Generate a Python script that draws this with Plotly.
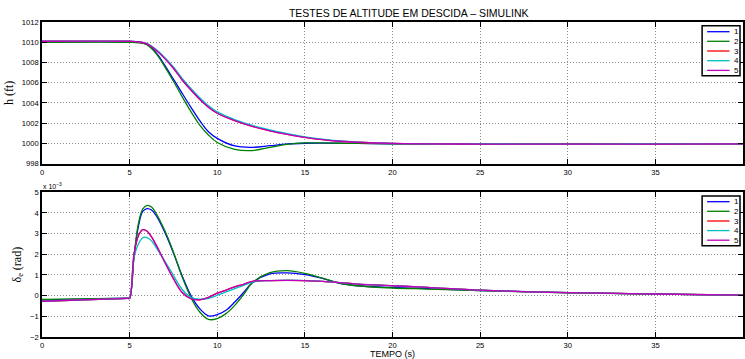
import plotly.graph_objects as go

# ---------------- data ----------------
names = ["1", "2", "3", "4", "5"]
colors = ["#0000ff", "#008000", "#ff0000", "#00bfbf", "#bf00bf"]

# altitude h (ft)
t_h = [0, 5, 5.5, 6, 6.5, 7, 7.5, 8, 8.5, 9, 9.5, 10, 11, 12, 13, 14, 15, 16, 17, 18, 20, 25, 30, 35, 40]
h1 = [1010.05, 1010.05, 1010.0, 1009.78, 1009.0, 1007.75, 1006.35, 1004.95, 1003.57, 1002.25, 1001.16, 1000.5,
      999.75, 999.62, 999.78, 999.95, 1000.02, 1000.03, 1000.02, 1000.0, 999.97, 999.95, 999.95, 999.95, 999.95]
h2 = [1010.0, 1010.0, 1009.95, 1009.73, 1008.9, 1007.6, 1006.15, 1004.6, 1003.14, 1001.82, 1000.84, 1000.1,
      999.42, 999.3, 999.62, 999.91, 1000.05, 1000.05, 1000.02, 1000.0, 999.97, 999.95, 999.95, 999.95, 999.95]
h3 = [1010.1, 1010.1, 1010.05, 1009.83, 1009.24, 1008.41, 1007.43, 1006.27, 1005.28, 1004.36, 1003.57, 1002.98,
      1002.25, 1001.68, 1001.25, 1000.9, 1000.6, 1000.38, 1000.22, 1000.12, 1000.0, 999.94, 999.93, 999.94, 999.95]
h4 = [1010.1, 1010.1, 1010.06, 1009.86, 1009.3, 1008.5, 1007.55, 1006.42, 1005.43, 1004.52, 1003.72, 1003.12,
      1002.36, 1001.78, 1001.33, 1000.97, 1000.66, 1000.42, 1000.25, 1000.14, 1000.01, 999.95, 999.94, 999.95, 999.95]
h5 = [1010.1, 1010.1, 1010.05, 1009.83, 1009.24, 1008.41, 1007.43, 1006.27, 1005.28, 1004.36, 1003.57, 1002.98,
      1002.25, 1001.68, 1001.25, 1000.9, 1000.6, 1000.38, 1000.22, 1000.12, 1000.0, 999.94, 999.93, 999.94, 999.95]

# elevator deflection delta_e (rad, in units of 1e-3)
t_d = [0, 4.9, 5, 5.25, 5.5, 5.75, 6, 6.25, 6.5, 7, 7.5, 8, 8.5, 9, 9.5, 10, 10.5, 11, 11.5, 12,
       13, 14, 15, 16, 17, 18, 20, 22, 25, 30, 35, 40]
d1 = [-0.22, -0.125, -0.12, 1.88, 3.35, 4.08, 4.21, 4.14, 3.89, 3.08, 2.06, 0.95, 0.0, -0.63, -0.98, -0.92,
      -0.71, -0.31, 0.15, 0.62, 1.05, 1.1, 1.02, 0.84, 0.6, 0.48, 0.4, 0.34, 0.25, 0.15, 0.07, 0.03]
d2 = [-0.18, -0.125, -0.12, 1.9, 3.48, 4.2, 4.37, 4.29, 4.0, 3.16, 2.11, 0.9, -0.1, -0.79, -1.15, -1.11,
      -0.87, -0.47, 0.05, 0.62, 1.11, 1.21, 1.08, 0.85, 0.6, 0.48, 0.37, 0.32, 0.24, 0.14, 0.07, 0.03]
d3 = [-0.27, -0.135, -0.13, 2.0, 2.9, 3.19, 3.12, 2.84, 2.47, 1.63, 0.82, 0.15, -0.15, -0.2, -0.08, 0.12,
      0.27, 0.42, 0.55, 0.69, 0.73, 0.74, 0.73, 0.69, 0.63, 0.56, 0.48, 0.4, 0.27, 0.15, 0.08, 0.03]
d4 = [-0.27, -0.135, -0.13, 1.85, 2.5, 2.8, 2.81, 2.65, 2.35, 1.68, 0.98, 0.3, -0.08, -0.17, -0.13, 0.02,
      0.18, 0.34, 0.5, 0.65, 0.73, 0.75, 0.73, 0.69, 0.63, 0.56, 0.48, 0.4, 0.27, 0.15, 0.08, 0.03]
d5 = [-0.27, -0.135, -0.13, 2.0, 2.9, 3.19, 3.12, 2.84, 2.47, 1.63, 0.82, 0.15, -0.15, -0.2, -0.08, 0.12,
      0.27, 0.42, 0.55, 0.69, 0.73, 0.74, 0.73, 0.69, 0.63, 0.56, 0.48, 0.4, 0.27, 0.15, 0.08, 0.03]

h_series = [h1, h2, h3, h4, h5]
d_series = [d1, d2, d3, d4, d5]

# ---------------- figure ----------------
W_FIG, H_FIG = 745, 359
L, R, T, B = 42, 0, 22, 22
PW, PH = W_FIG - L - R, H_FIG - T - B


def pxx(x):
    return (x - L) / PW


def pxy(y):
    return (H_FIG - B - y) / PH


fig = go.Figure()
for name, color, y in zip(names, colors, h_series):
    fig.add_trace(go.Scatter(x=t_h, y=y, name=name, mode="lines", xaxis="x", yaxis="y",
                             line=dict(color=color, width=1.3, shape="spline", smoothing=1),
                             showlegend=False, legendgroup=name))
for name, color, y in zip(names, colors, d_series):
    fig.add_trace(go.Scatter(x=t_d, y=y, name=name, mode="lines", xaxis="x2", yaxis="y2",
                             line=dict(color=color, width=1.3, shape="spline", smoothing=1),
                             showlegend=False, legendgroup=name))

tickfont = dict(family="Liberation Sans, Arial, sans-serif", size=7.6, color="black")
axis_common = dict(showline=True, linecolor="black", linewidth=1.5, mirror="ticks",
                   ticks="inside", ticklen=5, tickwidth=1.3, tickcolor="black",
                   showgrid=True, gridcolor="#8c8c8c", griddash="1px,2px", gridwidth=1,
                   zeroline=False, tickfont=tickfont)

top_lo = pxy(163.7)
bot_hi = pxy(192.3)

fig.update_layout(
    width=W_FIG, height=H_FIG,
    margin=dict(l=L, r=R, t=T, b=B),
    paper_bgcolor="white", plot_bgcolor="white",
    title=dict(text="TESTES DE ALTITUDE EM DESCIDA – SIMULINK", xref="container", x=408.7 / W_FIG,
               xanchor="center", yref="container", y=1 - 13 / H_FIG, yanchor="middle",
               font=dict(family="Liberation Sans, Arial, sans-serif", size=10.5, color="black")),
    xaxis=dict(axis_common, domain=[0, 1], anchor="y", range=[0, 40], dtick=5, tick0=0),
    yaxis=dict(axis_common, domain=[top_lo, 1], anchor="x", range=[998, 1012], dtick=2, tick0=998,
               title=dict(text="h (ft)", standoff=6,
                          font=dict(family="Liberation Serif, Times New Roman, serif", size=12, color="black"))),
    xaxis2=dict(axis_common, domain=[0, 1], anchor="y2", range=[0, 40], dtick=5, tick0=0,
                title=dict(text="TEMPO (s)", standoff=3,
                           font=dict(family="Liberation Sans, Arial, sans-serif", size=9, color="black"))),
    yaxis2=dict(axis_common, domain=[0, bot_hi], anchor="x2", range=[-2, 5], dtick=1, tick0=-2,
                title=dict(text="δ<sub>e</sub> (rad)", standoff=6,
                           font=dict(family="Liberation Serif, Times New Roman, serif", size=12, color="black"))),
    showlegend=False,
)

# exponent label of lower axis
fig.add_annotation(text="x 10<sup>−3</sup>", xref="paper", yref="paper", x=pxx(40.5), y=pxy(186.5),
                   xanchor="left", yanchor="middle", showarrow=False,
                   font=dict(family="Liberation Sans, Arial, sans-serif", size=7, color="black"))

# compact MATLAB-style legends (one per subplot)
legend_boxes = [
    dict(x0=704, x1=742, y0=25.7, y1=75.7, rows=[31.7, 41.3, 51.0, 60.7, 70.4]),
    dict(x0=704, x1=742, y0=196.0, y1=245.7, rows=[201.7, 211.3, 221.0, 230.6, 240.2]),
]
for box in legend_boxes:
    fig.add_shape(type="rect", xref="paper", yref="paper",
                  x0=pxx(box["x0"]), x1=pxx(box["x1"]), y0=pxy(box["y1"]), y1=pxy(box["y0"]),
                  line=dict(color="black", width=1.5), fillcolor="white", layer="above")
    for name, color, ry in zip(names, colors, box["rows"]):
        fig.add_shape(type="line", xref="paper", yref="paper",
                      x0=pxx(709), x1=pxx(731.5), y0=pxy(ry), y1=pxy(ry),
                      line=dict(color=color, width=1.3), layer="above")
        fig.add_annotation(text=name, xref="paper", yref="paper", x=pxx(733.5), y=pxy(ry),
                           xanchor="left", yanchor="middle", showarrow=False,
                           font=dict(family="Liberation Sans, Arial, sans-serif", size=8, color="black"))

fig.write_html("out.html", config={"displayModeBar": False},
               post_script="document.body.style.margin='0';document.body.style.overflow='hidden';")
